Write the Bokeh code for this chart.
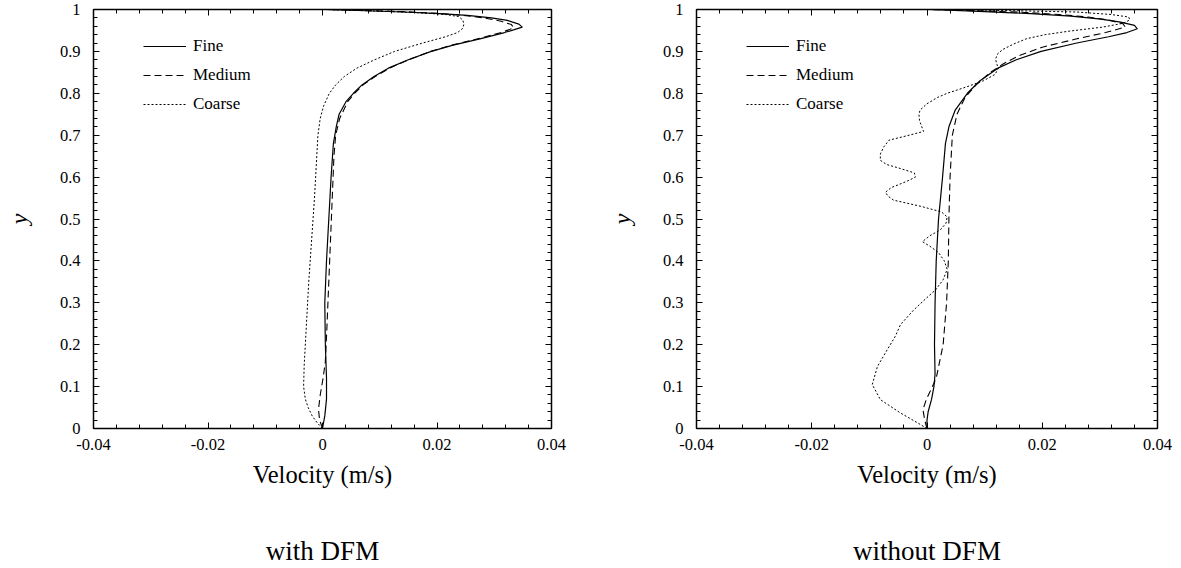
from bokeh.plotting import figure
from bokeh.models import (Range1d, LinearAxis, FixedTicker, Legend, LegendItem,
                          ColumnDataSource, CustomLabelingPolicy)
from bokeh.layouts import row
from bokeh.embed import file_html
from bokeh.resources import INLINE

# ---------------- data ----------------
series_names = ["Fine", "Medium", "Coarse"]
captions = ["with DFM", "without DFM"]

x_ticks = [-0.04, -0.02, 0.0, 0.02, 0.04]
x_tick_labels = ["-0.04", "-0.02", "0", "0.02", "0.04"]
y_ticks = [0.0, 0.1, 0.2, 0.3, 0.4, 0.5, 0.6, 0.7, 0.8, 0.9, 1.0]
y_tick_labels = ["0", "0.1", "0.2", "0.3", "0.4", "0.5", "0.6", "0.7", "0.8", "0.9", "1"]

# with DFM
dfm_fine_y = [0, 0.03, 0.07, 0.12, 0.2, 0.3, 0.4, 0.5, 0.6, 0.68, 0.72, 0.75, 0.78, 0.8, 0.82, 0.84,
              0.86, 0.88, 0.9, 0.915, 0.93, 0.945, 0.952, 0.958, 0.965, 0.974, 0.98, 0.986, 0.99,
              0.994, 0.997, 1.0]
dfm_fine_u = [0, 0.0004, 0.0007, 0.0007, 0.0005, 0.0004, 0.0007, 0.0011, 0.0015, 0.0019, 0.0024,
              0.0029, 0.0041, 0.0054, 0.0069, 0.0090, 0.0115, 0.0150, 0.0190, 0.0228, 0.0275,
              0.0318, 0.0335, 0.0349, 0.0343, 0.0323, 0.0295, 0.0253, 0.0205, 0.0140, 0.0075, 0.0005]

dfm_medium_y = [0, 0.02, 0.045, 0.08, 0.12, 0.16, 0.25, 0.35, 0.45, 0.55, 0.65, 0.7, 0.74, 0.78, 0.8,
                0.82, 0.84, 0.86, 0.88, 0.9, 0.915, 0.93, 0.945, 0.956, 0.964, 0.972, 0.98, 0.986,
                0.991, 0.995, 0.998, 1.0]
dfm_medium_u = [0, -0.0005, -0.0007, -0.0004, 0.0001, 0.0005, 0.0008, 0.0011, 0.0014, 0.0017, 0.0020,
                0.0023, 0.0030, 0.0044, 0.0056, 0.0071, 0.0092, 0.0117, 0.0150, 0.0189, 0.0226,
                0.0271, 0.0312, 0.0334, 0.0330, 0.0312, 0.0282, 0.0245, 0.0200, 0.0140, 0.0070, 0.0005]

dfm_coarse_y = [0, 0.015, 0.03, 0.05, 0.07, 0.1, 0.15, 0.25, 0.35, 0.45, 0.55, 0.65, 0.7, 0.74, 0.77,
                0.8, 0.82, 0.84, 0.86, 0.88, 0.9, 0.92, 0.935, 0.945, 0.955, 0.965, 0.975, 0.983,
                0.988, 0.993, 0.997, 1.0]
dfm_coarse_u = [0, -0.0010, -0.0018, -0.0025, -0.0030, -0.0033, -0.0032, -0.0028, -0.0024, -0.0019,
                -0.0014, -0.0010, -0.0008, -0.0004, 0.0002, 0.0012, 0.0023, 0.0038, 0.0060, 0.0091,
                0.0126, 0.0175, 0.0215, 0.0236, 0.0245, 0.0247, 0.0245, 0.0238, 0.0215, 0.0160,
                0.0080, 0.0005]

# without DFM
nodfm_fine_y = [0, 0.02, 0.04, 0.07, 0.1, 0.13, 0.2, 0.3, 0.4, 0.5, 0.6, 0.68, 0.72, 0.76, 0.8, 0.83,
                0.86, 0.88, 0.9, 0.92, 0.935, 0.945, 0.954, 0.962, 0.97, 0.977, 0.984, 0.99, 0.995, 1.0]
nodfm_fine_u = [0, 0.0000, 0.0002, 0.0008, 0.0012, 0.0014, 0.0013, 0.0014, 0.0016, 0.0020, 0.0027,
                0.0032, 0.0038, 0.0049, 0.0070, 0.0092, 0.0123, 0.0155, 0.0198, 0.0260, 0.0315,
                0.0347, 0.0365, 0.0360, 0.0336, 0.0302, 0.0250, 0.0180, 0.0100, 0.0006]

nodfm_medium_y = [0, 0.02, 0.045, 0.07, 0.09, 0.12, 0.2, 0.3, 0.4, 0.5, 0.6, 0.7, 0.75, 0.79, 0.82,
                  0.85, 0.87, 0.89, 0.91, 0.93, 0.945, 0.958, 0.966, 0.974, 0.982, 0.988, 0.993,
                  0.997, 1.0]
nodfm_medium_u = [0, -0.0004, -0.0007, -0.0001, 0.0006, 0.0016, 0.0028, 0.0034, 0.0037, 0.0038,
                  0.0040, 0.0044, 0.0052, 0.0066, 0.0085, 0.0110, 0.0132, 0.0160, 0.0200, 0.0260,
                  0.0310, 0.0344, 0.0340, 0.0318, 0.0280, 0.0230, 0.0170, 0.0090, 0.0006]

nodfm_coarse_y = [0, 0.014, 0.037, 0.069, 0.105, 0.148, 0.188, 0.22, 0.248, 0.283, 0.31, 0.331,
                  0.355, 0.38, 0.40, 0.42, 0.435, 0.446, 0.46, 0.474, 0.49, 0.505, 0.517, 0.53,
                  0.545, 0.555, 0.564, 0.575, 0.59, 0.60, 0.61, 0.62, 0.63, 0.64, 0.655, 0.672,
                  0.688, 0.70, 0.709, 0.72, 0.735, 0.75, 0.76, 0.775, 0.79, 0.80, 0.815, 0.83,
                  0.845, 0.86, 0.87, 0.882, 0.895, 0.905, 0.918, 0.93, 0.94, 0.948, 0.958, 0.967,
                  0.975, 0.982, 0.988, 0.994, 0.998, 1.0]
nodfm_coarse_u = [0, -0.0017, -0.0046, -0.0081, -0.0095, -0.0086, -0.0069, -0.0055, -0.0046,
                  -0.0023, -0.0002, 0.0015, 0.0028, 0.0035, 0.0030, 0.0020, 0.0005, -0.0008,
                  0.0005, 0.0023, 0.0033, 0.0035, 0.0025, -0.0010, -0.0058, -0.0068, -0.0072,
                  -0.0062, -0.0035, -0.0020, -0.0022, -0.0045, -0.0070, -0.0081, -0.0081, -0.0075,
                  -0.0066, -0.0031, -0.0006, -0.0009, -0.0013, -0.0014, -0.0012, 0.0000, 0.0018,
                  0.0035, 0.0068, 0.0098, 0.0118, 0.0124, 0.0121, 0.0119, 0.0123, 0.0132, 0.0151,
                  0.0172, 0.0205, 0.0245, 0.0305, 0.0340, 0.0352, 0.0350, 0.0320, 0.0260, 0.0120,
                  0.0005]

# ---------------- styling ----------------
FONT = "Liberation Serif"
DASHES = ["solid", "7 4", "2 2"]
WIDTHS = [1.2, 1.1, 1.0]

x_minor = [round(-0.04 + i * 0.004, 4) for i in range(21)]
y_minor = [round(i * 0.02, 3) for i in range(51)]
x_over = {v: s for v, s in zip(x_ticks, x_tick_labels)}
y_over = {v: s for v, s in zip(y_ticks, y_tick_labels)}

NO_LABELS = """
for (let i = 0; i < indices.size; i++) {
  if (typeof indices.unset === "function") { indices.unset(i) } else { indices.set(i, false) }
}
return indices
"""


def style_axis(ax, ticks, minor, overrides, show_labels):
    ax.ticker = FixedTicker(ticks=ticks, minor_ticks=minor)
    ax.major_tick_in = 6
    ax.major_tick_out = 0
    ax.minor_tick_in = 4
    ax.minor_tick_out = 0
    ax.axis_line_color = "black"
    ax.axis_line_width = 1.5
    ax.major_tick_line_color = "black"
    ax.minor_tick_line_color = "black"
    if show_labels:
        ax.major_label_overrides = overrides
        ax.major_label_text_font = FONT
        ax.major_label_text_font_size = "16.5px"
        ax.major_label_text_color = "black"
    else:
        ax.major_label_policy = CustomLabelingPolicy(code=NO_LABELS)
        ax.major_label_text_font_size = "1px"
        ax.major_label_standoff = 0


def make_panel(series, caption, width, left, right):
    p = figure(width=width, height=568, x_range=Range1d(-0.04, 0.04), y_range=Range1d(0, 1),
               output_backend="svg", toolbar_location=None, title=None,
               min_border_left=left, min_border_right=right, min_border_top=9,
               min_border_bottom=139)
    p.grid.visible = False
    p.outline_line_color = "black"
    p.outline_line_width = 1
    p.background_fill_color = "white"
    p.border_fill_color = "white"

    xa = p.xaxis[0]
    ya = p.yaxis[0]
    style_axis(xa, x_ticks, x_minor, x_over, True)
    style_axis(ya, y_ticks, y_minor, y_over, True)
    xa.major_label_standoff = 10
    ya.major_label_standoff = 13
    xa.axis_label = "Velocity (m/s)"
    xa.axis_label_text_font = FONT
    xa.axis_label_text_font_size = "24.5px"
    xa.axis_label_text_font_style = "normal"
    xa.axis_label_text_color = "black"
    xa.axis_label_standoff = 8
    ya.axis_label = "y"
    ya.axis_label_text_font = FONT
    ya.axis_label_text_font_size = "24px"
    ya.axis_label_text_font_style = "italic"
    ya.axis_label_text_color = "black"
    ya.axis_label_standoff = 25
    ya.axis_label_text_line_height = 1.0

    top = LinearAxis()
    style_axis(top, x_ticks, x_minor, x_over, False)
    p.add_layout(top, "above")
    rgt = LinearAxis()
    style_axis(rgt, y_ticks, y_minor, y_over, False)
    p.add_layout(rgt, "right")

    # caption under the panel, carried by a tick-less axis below the x axis
    cap = LinearAxis(ticker=FixedTicker(ticks=[], minor_ticks=[]), axis_line_color=None,
                     major_tick_in=0, major_tick_out=0, minor_tick_in=0, minor_tick_out=0,
                     major_tick_line_color=None, minor_tick_line_color=None,
                     major_label_standoff=0, major_label_text_font_size="1px")
    cap.axis_label = caption
    cap.axis_label_text_font = FONT
    cap.axis_label_text_font_size = "27px"
    cap.axis_label_text_font_style = "normal"
    cap.axis_label_text_color = "black"
    cap.axis_label_standoff = 45
    p.add_layout(cap, "below")

    items = []
    for (name, ys, us), dash, w in zip(series, DASHES, WIDTHS):
        src = ColumnDataSource(dict(u=us, y=ys))
        r = p.line("u", "y", source=src, line_color="black", line_width=w, line_dash=dash)
        items.append(LegendItem(label=name, renderers=[r]))

    leg = Legend(items=items, location=(50, 314), border_line_color=None,
                 background_fill_alpha=0, label_text_font=FONT, label_text_font_size="17px",
                 label_text_color="black", glyph_width=43, glyph_height=20, label_height=20,
                 label_standoff=7, spacing=9, padding=0, margin=0)
    p.add_layout(leg)
    return p


p1 = make_panel([(series_names[0], dfm_fine_y, dfm_fine_u),
                 (series_names[1], dfm_medium_y, dfm_medium_u),
                 (series_names[2], dfm_coarse_y, dfm_coarse_u)],
                captions[0], 604, 93, 53)
p2 = make_panel([(series_names[0], nodfm_fine_y, nodfm_fine_u),
                 (series_names[1], nodfm_medium_y, nodfm_medium_u),
                 (series_names[2], nodfm_coarse_y, nodfm_coarse_u)],
                captions[1], 577, 92, 24)

layout = row(p1, p2)
open("out.html", "w").write(file_html(layout, INLINE))
